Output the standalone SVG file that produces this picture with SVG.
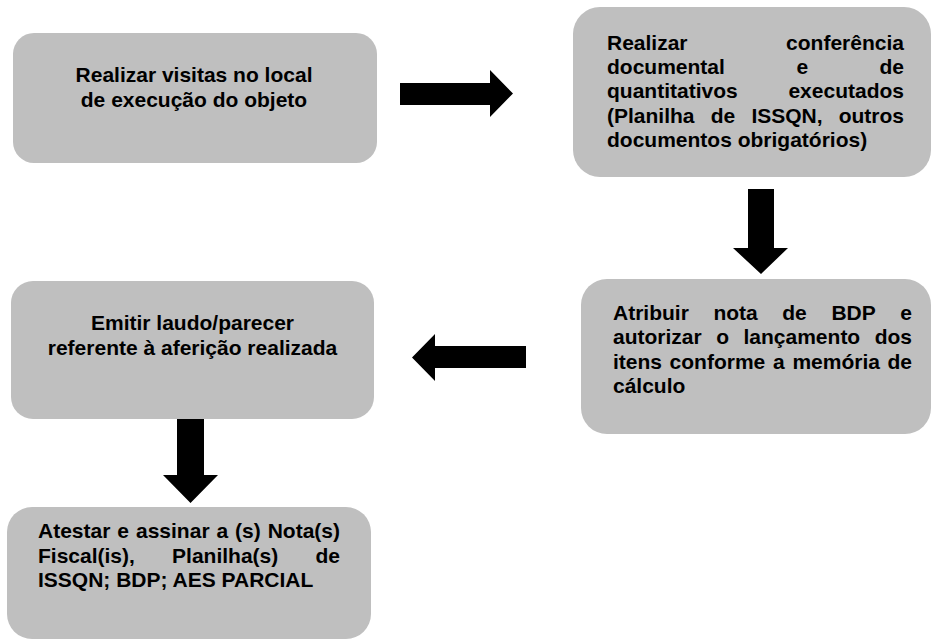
<svg xmlns="http://www.w3.org/2000/svg" width="931" height="641" viewBox="0 0 931 641">
<style>
.box{fill:#bfbfbf;}
.t{font-family:"Liberation Sans",Arial,sans-serif;font-weight:bold;font-size:21px;fill:#000;}
.c{text-anchor:middle;}
.e{text-anchor:end;}
.arrow{fill:#000;}
</style>
<rect x="0" y="0" width="931" height="641" fill="#fff"/>
<g id="connectors">
<polygon class="arrow" points="400,83 490,83 490,70 513,93.5 490,117 490,105 400,105"/>
<polygon class="arrow" points="748,189 774,189 774,248 788,248 761,274 733,248 748,248"/>
<polygon class="arrow" points="526,346 435,346 435,334 412,357.5 435,381 435,368 526,368"/>
<polygon class="arrow" points="177,417 204,417 204,475 218,475 190.5,503 163,475 177,475"/>
</g>
<g id="node1">
<rect class="box" x="13" y="33" width="364" height="130" rx="21"/>
<text class="t c" x="194" y="82">Realizar visitas no local</text>
<text class="t c" x="194" y="107">de execução do objeto</text>
</g>
<g id="node2">
<rect class="box" x="573" y="7" width="358" height="170" rx="27"/>
<text class="t" x="607" y="50">Realizar</text>
<text class="t e" x="904" y="50">conferência</text>
<text class="t" x="607" y="74">documental</text>
<text class="t" x="796.4" y="74">e</text>
<text class="t e" x="904" y="74">de</text>
<text class="t" x="607" y="98">quantitativos</text>
<text class="t e" x="904" y="98">executados</text>
<text class="t" x="607" y="123">(Planilha</text>
<text class="t" x="710.7" y="123">de</text>
<text class="t" x="751.4" y="123">ISSQN,</text>
<text class="t e" x="904" y="123">outros</text>
<text class="t" x="607" y="147">documentos obrigatórios)</text>
</g>
<g id="node3">
<rect class="box" x="581" y="279" width="350" height="155" rx="26"/>
<text class="t" x="613" y="320">Atribuir</text>
<text class="t" x="713.4" y="320">nota</text>
<text class="t" x="782.3" y="320">de</text>
<text class="t" x="831.4" y="320">BDP</text>
<text class="t e" x="912" y="320">e</text>
<text class="t" x="613" y="344">autorizar</text>
<text class="t" x="716.2" y="344">o</text>
<text class="t" x="743.5" y="344">lançamento</text>
<text class="t e" x="912" y="344">dos</text>
<text class="t" x="613" y="369">itens</text>
<text class="t" x="669.6" y="369">conforme</text>
<text class="t" x="773" y="369">a</text>
<text class="t" x="792.4" y="369">memória</text>
<text class="t e" x="912" y="369">de</text>
<text class="t" x="613" y="393">cálculo</text>
</g>
<g id="node4">
<rect class="box" x="11" y="281" width="363" height="138" rx="22"/>
<text class="t c" x="192.5" y="330">Emitir laudo/parecer</text>
<text class="t c" x="192.5" y="355">referente à aferição realizada</text>
</g>
<g id="node5">
<rect class="box" x="7" y="507" width="364" height="132" rx="25"/>
<text class="t" x="38" y="538">Atestar</text>
<text class="t" x="117.3" y="538">e</text>
<text class="t" x="136" y="538">assinar</text>
<text class="t" x="216.5" y="538">a</text>
<text class="t" x="235.1" y="538">(s)</text>
<text class="t e" x="340" y="538">Nota(s)</text>
<text class="t" x="38" y="563">Fiscal(is),</text>
<text class="t" x="172.1" y="563">Planilha(s)</text>
<text class="t e" x="340" y="563">de</text>
<text class="t" x="38" y="587">ISSQN; BDP; AES PARCIAL</text>
</g>
</svg>
